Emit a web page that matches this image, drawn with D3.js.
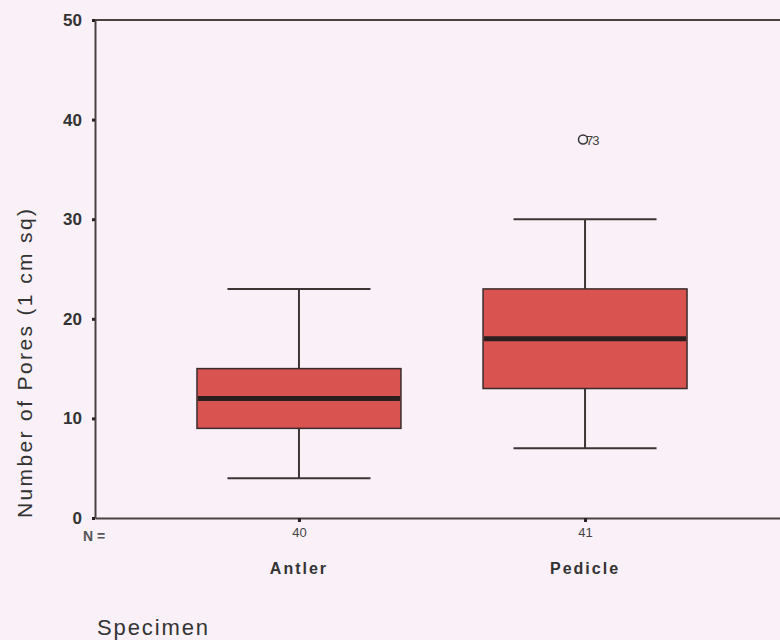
<!DOCTYPE html>
<html lang="en">
<head>
    <meta charset="UTF-8">
    <title>Number of Pores by Specimen</title>
    <script src="https://d3js.org/d3.v7.min.js"></script>
    <style>
        body { margin: 0; background: #f9f0f8; }
        svg { display: block; font-family: "Liberation Sans", Arial, sans-serif; }
    </style>
</head>
<body>
    <div id="my_dataviz"></div>

    <script>
        // box plot summary
        var categories = ["Antler", "Pedicle"];
        var nCounts = [40, 41];
        var whiskerLow = [4, 7];
        var q1 = [9, 13];
        var median = [12, 18];
        var q3 = [15, 23];
        var whiskerHigh = [23, 30];

        // outliers (case number shown next to the circle)
        var outlierCategory = ["Pedicle"];
        var outlierValue = [38];
        var outlierCase = ["73"];

        var yTicks = [0, 10, 20, 30, 40, 50];

        var width = 780, height = 640;
        var margin = {top: 20, left: 95, bottom: 122};

        var svg = d3.select("#my_dataviz")
            .append("svg")
            .attr("width", width)
            .attr("height", height);

        svg.append("rect")
            .attr("width", width)
            .attr("height", height)
            .attr("fill", "#f9f0f8");

        var y = d3.scaleLinear()
            .domain([0, 50])
            .range([height - margin.bottom, margin.top]);

        // plot area runs off the right edge of the picture
        var x = d3.scalePoint()
            .domain(categories)
            .range([margin.left, 789])
            .padding(0.713);

        var step = x.step();
        var boxW = step * 0.713;
        var capW = step * 0.5;

        var boxes = categories.map(function(c, i) {
            return {cat: c, lo: whiskerLow[i], q1: q1[i], med: median[i], q3: q3[i], hi: whiskerHigh[i]};
        });

        // top frame line
        svg.append("line")
            .attr("x1", margin.left).attr("x2", width)
            .attr("y1", y(50)).attr("y2", y(50))
            .attr("stroke", "#4a4242")
            .attr("stroke-width", 2);

        // y axis
        var yAxis = svg.append("g")
            .attr("transform", "translate(" + margin.left + ",0)")
            .call(d3.axisLeft(y).tickValues(yTicks).tickSizeInner(3).tickSizeOuter(0).tickPadding(10));
        yAxis.select(".domain").attr("stroke", "#4a4242").attr("stroke-width", 2);
        yAxis.selectAll(".tick line").attr("stroke", "#2a2222").attr("stroke-width", 3);
        yAxis.selectAll(".tick text")
            .attr("fill", "#333")
            .style("font-size", "17px")
            .style("font-weight", "bold");

        // x axis, tick labels are the group sizes
        var xAxis = svg.append("g")
            .attr("transform", "translate(0," + y(0) + ")")
            .call(d3.axisBottom(x).tickSizeInner(4).tickSizeOuter(0).tickPadding(6)
                .tickFormat(function(d, i) { return nCounts[i]; }));
        xAxis.select(".domain").attr("stroke", "#4a4242").attr("stroke-width", 2);
        xAxis.selectAll(".tick line").attr("stroke", "#2a2222").attr("stroke-width", 3);
        xAxis.selectAll(".tick text")
            .attr("fill", "#444")
            .style("font-size", "13px");

        svg.append("text")
            .attr("x", 83)
            .attr("y", 541)
            .attr("fill", "#555")
            .style("font-size", "14px")
            .style("font-weight", "bold")
            .text("N =");

        // category names
        svg.selectAll(".catLabel")
            .data(categories)
            .enter().append("text")
            .attr("class", "catLabel")
            .attr("x", function(d) { return x(d); })
            .attr("y", 574)
            .attr("text-anchor", "middle")
            .attr("fill", "#333")
            .style("font-size", "16px")
            .style("font-weight", "bold")
            .style("letter-spacing", "2px")
            .text(function(d) { return d; });

        // whiskers
        var g = svg.append("g");
        g.selectAll(".stem")
            .data(boxes)
            .enter().append("line")
            .attr("class", "stem")
            .attr("x1", function(d) { return x(d.cat); })
            .attr("x2", function(d) { return x(d.cat); })
            .attr("y1", function(d) { return y(d.lo); })
            .attr("y2", function(d) { return y(d.hi); })
            .attr("stroke", "#3d3535")
            .attr("stroke-width", 2);

        ["lo", "hi"].forEach(function(k) {
            g.selectAll(".cap-" + k)
                .data(boxes)
                .enter().append("line")
                .attr("class", "cap-" + k)
                .attr("x1", function(d) { return x(d.cat) - capW / 2; })
                .attr("x2", function(d) { return x(d.cat) + capW / 2; })
                .attr("y1", function(d) { return y(d[k]); })
                .attr("y2", function(d) { return y(d[k]); })
                .attr("stroke", "#3d3535")
                .attr("stroke-width", 2);
        });

        // boxes
        g.selectAll(".box")
            .data(boxes)
            .enter().append("rect")
            .attr("class", "box")
            .attr("x", function(d) { return x(d.cat) - boxW / 2; })
            .attr("y", function(d) { return y(d.q3); })
            .attr("width", boxW)
            .attr("height", function(d) { return y(d.q1) - y(d.q3); })
            .attr("fill", "#d95351")
            .attr("stroke", "#3a2c2c")
            .attr("stroke-width", 1.5);

        // medians
        g.selectAll(".med")
            .data(boxes)
            .enter().append("line")
            .attr("class", "med")
            .attr("x1", function(d) { return x(d.cat) - boxW / 2 + 1; })
            .attr("x2", function(d) { return x(d.cat) + boxW / 2 - 1; })
            .attr("y1", function(d) { return y(d.med); })
            .attr("y2", function(d) { return y(d.med); })
            .attr("stroke", "#2a1e1e")
            .attr("stroke-width", 5);

        // outliers
        g.selectAll(".outlier")
            .data(outlierValue)
            .enter().append("circle")
            .attr("class", "outlier")
            .attr("cx", function(d, i) { return x(outlierCategory[i]) - 2; })
            .attr("cy", function(d) { return y(d); })
            .attr("r", 4.5)
            .attr("fill", "none")
            .attr("stroke", "#333")
            .attr("stroke-width", 1.5);

        g.selectAll(".outlierLabel")
            .data(outlierValue)
            .enter().append("text")
            .attr("class", "outlierLabel")
            .attr("x", function(d, i) { return x(outlierCategory[i]) + 1; })
            .attr("y", function(d) { return y(d) + 5; })
            .attr("fill", "#444")
            .style("font-size", "13px")
            .style("letter-spacing", "-1px")
            .text(function(d, i) { return outlierCase[i]; });

        // axis titles
        svg.append("text")
            .attr("transform", "translate(32," + 518 + ") rotate(-90)")
            .attr("textLength", 309)
            .attr("lengthAdjust", "spacing")
            .attr("fill", "#333")
            .style("font-size", "21px")
            .text("Number of Pores (1 cm sq)");

        svg.append("text")
            .attr("x", 97)
            .attr("y", 635)
            .attr("textLength", 111)
            .attr("lengthAdjust", "spacing")
            .attr("fill", "#333")
            .style("font-size", "22px")
            .text("Specimen");
    </script>
</body>
</html>
